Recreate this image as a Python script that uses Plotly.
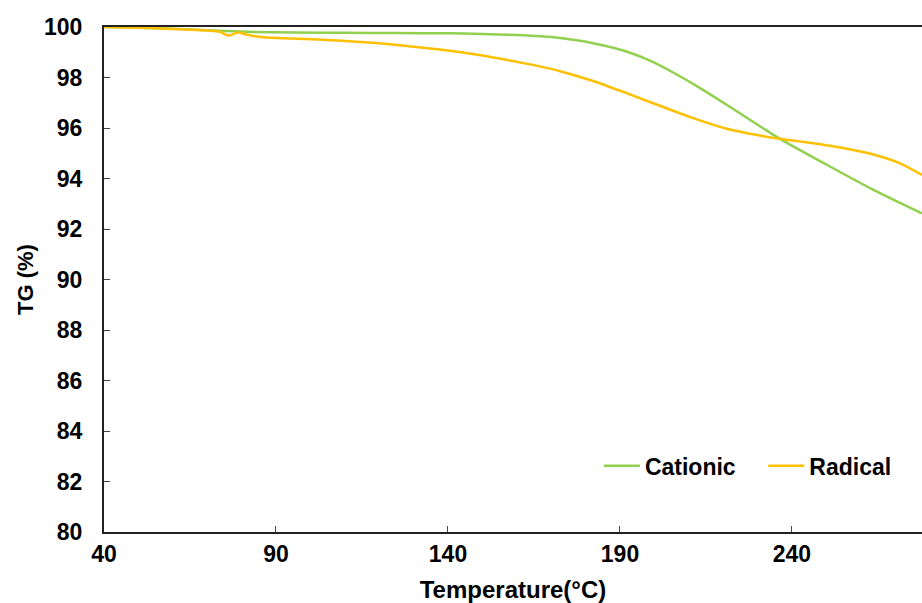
import plotly.graph_objects as go

# Data
cat_x = [40, 50, 60, 70, 81.5, 96, 110, 125, 140, 150, 160, 167, 172.6, 182.2, 191.9, 199.7, 206.5, 213.3, 221, 230.7, 236.5, 249.1, 263.7, 277.8]
cat_y = [100, 99.97, 99.93, 99.87, 99.81, 99.78, 99.77, 99.76, 99.75, 99.72, 99.68, 99.63, 99.56, 99.36, 99.03, 98.61, 98.12, 97.58, 96.92, 96.07, 95.57, 94.62, 93.55, 92.62]

rad_x = [40, 50, 60, 70, 73.7, 76.1, 79, 82, 86.3, 95, 104.7, 120, 130, 140, 150, 160, 166, 172.6, 182.2, 191.9, 201.6, 211.3, 221, 230.7, 236.5, 242, 249.1, 256, 263.7, 271.4, 277.8]
rad_y = [100, 99.97, 99.92, 99.86, 99.81, 99.66, 99.78, 99.68, 99.59, 99.54, 99.49, 99.36, 99.22, 99.07, 98.87, 98.62, 98.46, 98.25, 97.86, 97.38, 96.88, 96.39, 95.97, 95.70, 95.57, 95.47, 95.34, 95.18, 94.95, 94.6, 94.14]

x_ticks = [40, 90, 140, 190, 240]
y_ticks = [80, 82, 84, 86, 88, 90, 92, 94, 96, 98, 100]

font = "Liberation Sans, Arial, sans-serif"

fig = go.Figure()
fig.add_trace(go.Scatter(x=cat_x, y=cat_y, mode="lines", name="Cationic", legend="legend",
                         line=dict(color="#92D050", width=2.5, shape="spline", smoothing=0.8)))
fig.add_trace(go.Scatter(x=rad_x, y=rad_y, mode="lines", name="Radical", legend="legend2",
                         line=dict(color="#FFC000", width=2.5, shape="spline", smoothing=0.8)))

leg_common = dict(yanchor="middle", xanchor="left", bgcolor="rgba(0,0,0,0)",
                  font=dict(size=23, family=font, weight="bold"), itemwidth=36)
fig.update_layout(
    width=922, height=603,
    margin=dict(l=104, r=0, t=27, b=71),
    paper_bgcolor="white", plot_bgcolor="white",
    font=dict(family=font, color="black"),
    showlegend=True,
    legend=dict(x=0.605, y=0.131, **leg_common),
    legend2=dict(x=0.806, y=0.131, **leg_common),
)
fig.update_xaxes(
    range=[40, 277.8], tickvals=x_ticks, ticktext=[str(v) for v in x_ticks],
    showline=True, linecolor="#222", linewidth=2, mirror=True,
    ticks="inside", ticklen=6, tickcolor="#444", tickwidth=1,
    showgrid=False, zeroline=False,
    tickfont=dict(size=23, family=font, weight="bold"),
    title=dict(text="Temperature(°C)", font=dict(size=24, family=font, weight="bold"), standoff=16),
)
fig.update_yaxes(
    range=[80, 100], tickvals=y_ticks, ticktext=[str(v) for v in y_ticks],
    showline=True, linecolor="#222", linewidth=2,
    ticks="inside", ticklen=6, tickcolor="#444", tickwidth=1,
    showgrid=False, zeroline=False, ticklabelstandoff=15,
    tickfont=dict(size=23, family=font, weight="bold"),
    title=dict(text="TG (%)", font=dict(size=22, family=font, weight="bold"), standoff=4),
)
fig.write_html("out.html")
